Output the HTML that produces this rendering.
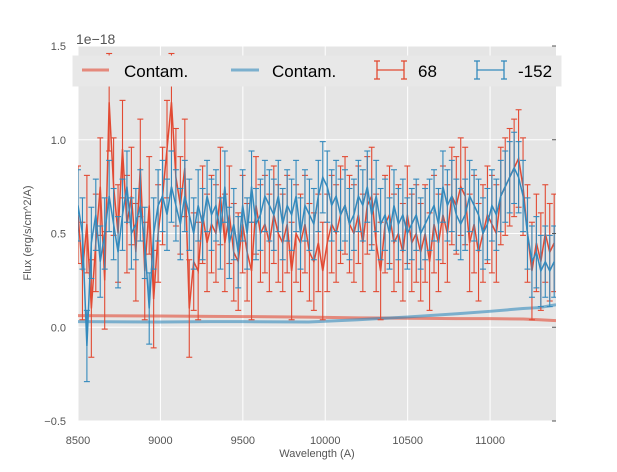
<!DOCTYPE html>
<html><head><meta charset="utf-8"><style>
body{margin:0;background:#fff;font-family:"Liberation Sans",sans-serif}
svg text{font-family:"Liberation Sans",sans-serif}
</style></head><body>
<svg id="chart" width="617" height="467">
<defs><clipPath id="pc"><rect x="78" y="46" width="478" height="375"/></clipPath></defs>
<rect x="78" y="46" width="478" height="375" fill="#e5e5e5"/>
<g id="grid"></g><g id="marks" clip-path="url(#pc)"></g><g id="axes"></g>
<text x="76" y="44" font-size="14" fill="#555">1e−18</text>
<text x="317" y="457" font-size="11" fill="#555" text-anchor="middle">Wavelength (A)</text>
<text transform="translate(31,233) rotate(-90)" font-size="11" fill="#555" text-anchor="middle">Flux (erg/s/cm^2/A)</text>
<g>
<rect x="73" y="56" width="488" height="30" fill="#e8e8e8" stroke="#e8e8e8"/>
<line x1="82" y1="70" x2="109" y2="70" stroke="#E24A33" stroke-opacity="0.6" stroke-width="3"/>
<text x="124" y="77" font-size="17">Contam.</text>
<line x1="231" y1="70" x2="259" y2="70" stroke="#348ABD" stroke-opacity="0.6" stroke-width="3"/>
<text x="272" y="77" font-size="17">Contam.</text>
<g stroke="#E24A33" stroke-width="1.3"><line x1="377" y1="70" x2="404" y2="70"/><line x1="377" y1="61" x2="377" y2="79"/><line x1="404" y1="61" x2="404" y2="79"/><line x1="374" y1="61" x2="380" y2="61"/><line x1="374" y1="79" x2="380" y2="79"/><line x1="401" y1="61" x2="407" y2="61"/><line x1="401" y1="79" x2="407" y2="79"/></g>
<text x="418" y="77" font-size="17">68</text>
<g stroke="#348ABD" stroke-width="1.3"><line x1="477" y1="70" x2="504" y2="70"/><line x1="477" y1="61" x2="477" y2="79"/><line x1="504" y1="61" x2="504" y2="79"/><line x1="474" y1="61" x2="480" y2="61"/><line x1="474" y1="79" x2="480" y2="79"/><line x1="501" y1="61" x2="507" y2="61"/><line x1="501" y1="79" x2="507" y2="79"/></g>
<text x="518" y="77" font-size="17">-152</text>
</g>
</svg>
<script>
const xStart = 8500, xStep = 27;
const red68 = [0.6,0.3,0.55,0.1,0.45,0.75,0.25,1.2,0.75,0.5,0.95,
0.55,0.7,0.4,0.85,0.3,0.65,0.15,0.5,0.7,0.95,1.2,
0.8,0.65,0.85,0.1,0.35,0.3,0.6,0.45,0.55,0.5,0.7,
0.45,0.6,0.4,0.35,0.55,0.4,0.3,0.65,0.5,0.55,0.45,
0.6,0.5,0.45,0.55,0.3,0.5,0.45,0.55,0.4,0.35,0.45,
0.3,0.45,0.55,0.5,0.6,0.65,0.55,0.5,0.6,0.45,0.65,
0.7,0.45,0.3,0.55,0.6,0.45,0.5,0.4,0.6,0.45,0.5,
0.4,0.5,0.35,0.55,0.45,0.6,0.5,0.7,0.65,0.75,0.7,
0.45,0.55,0.4,0.5,0.6,0.55,0.5,0.7,0.75,0.8,0.85,
0.9,0.75,0.5,0.3,0.45,0.35,0.5,0.4,0.45];
const blue152 = [0.65,0.5,-0.1,0.45,0.6,0.35,0.5,0.7,0.55,0.4,0.6,
0.75,0.5,0.55,0.65,0.45,0.1,0.5,0.65,0.7,0.6,0.75,
0.65,0.55,0.7,0.6,0.5,0.65,0.55,0.7,0.6,0.65,0.5,
0.75,0.45,0.55,0.4,0.65,0.5,0.75,0.55,0.6,0.7,0.65,
0.6,0.7,0.55,0.65,0.6,0.7,0.5,0.65,0.6,0.55,0.7,
0.8,0.75,0.65,0.7,0.6,0.65,0.55,0.6,0.7,0.65,0.75,
0.6,0.7,0.55,0.6,0.5,0.65,0.55,0.6,0.5,0.55,0.6,
0.5,0.55,0.6,0.65,0.55,0.75,0.65,0.7,0.6,0.55,0.6,
0.7,0.65,0.6,0.5,0.55,0.65,0.6,0.7,0.75,0.8,0.85,
0.8,0.7,0.5,0.35,0.4,0.3,0.35,0.3,0.35];
const errRed = 0.26;
const errBlue = 0.19;
const contamWave = [8500,9000,9300,9500,9900,10200,10500,10800,11000,11200,11300,11400];
const contamRed = [0.062,0.06,0.058,0.057,0.054,0.05,0.048,0.046,0.046,0.044,0.04,0.035];
const contamBlue = [0.03,0.028,0.03,0.03,0.028,0.04,0.055,0.072,0.085,0.1,0.105,0.12];
const xTicks = [8500,9000,9500,10000,10500,11000];
const yTicks = [-0.5,0.0,0.5,1.0,1.5];
const yTickLabels = ["−0.5","0.0","0.5","1.0","1.5"];

const X0=78,X1=556,Y0=421,Y1=46,xmin=8500,xmax=11400,ymin=-0.5,ymax=1.5;
const sx=v=>X0+(v-xmin)/(xmax-xmin)*(X1-X0);
const sy=v=>Y0-(v-ymin)/(ymax-ymin)*(Y0-Y1);
const NS="http://www.w3.org/2000/svg";
function mk(t,a,p){const e=document.createElementNS(NS,t);for(const k in a)e.setAttribute(k,a[k]);p.appendChild(e);return e;}
const grid=document.getElementById('grid'),marks=document.getElementById('marks'),axes=document.getElementById('axes');
xTicks.forEach(v=>{
 const l=mk('line',{x1:sx(v),x2:sx(v),y1:Y1,y2:Y0,stroke:'#fff','stroke-width':1},grid);
 
 
 const t=mk('text',{x:sx(v),y:Y0+23,'font-size':11,fill:'#555','text-anchor':'middle'},axes);
 t.textContent=v;
 
 
});
yTicks.forEach((v,i)=>{
 const l=mk('line',{x1:X0,x2:X1,y1:sy(v),y2:sy(v),stroke:'#fff','stroke-width':1},grid);
 
 
 const tk=mk('line',{x1:X1-4,x2:X1,y1:sy(v),y2:sy(v),stroke:'#555'},axes);
 
 
 const t=mk('text',{x:X0-12,y:sy(v)+4,'font-size':11,fill:'#555','text-anchor':'end'},axes);
 t.textContent=yTickLabels[i];
 
 
});
function contam(ys,color,name){
 const d=contamWave.map((w,i)=>(i?'L':'M')+sx(w)+','+sy(ys[i])).join('');
 const p=mk('path',{d:d,fill:'none',stroke:color,'stroke-opacity':0.6,'stroke-width':3},marks);
 
 
}
function series(ys,err,color,name){
 const g=mk('g',{stroke:color,'stroke-width':1.1,fill:'none'},marks);
 
 
 ys.forEach((v,i)=>{
  const x=sx(xStart+i*xStep),a=sy(v+err),b=sy(v-err);
  mk('line',{x1:x,x2:x,y1:a,y2:b},g);
  mk('line',{x1:x-3,x2:x+3,y1:a,y2:a},g);
  mk('line',{x1:x-3,x2:x+3,y1:b,y2:b},g);
 });
 const d=ys.map((v,i)=>(i?'L':'M')+sx(xStart+i*xStep)+','+sy(v)).join('');
 const p=mk('path',{d:d,'stroke-width':1.5},g);
 
 
}
contam(contamRed,'#E24A33','contam-red-line');
contam(contamBlue,'#348ABD','contam-blue-line');
series(red68,errRed,'#E24A33','series-68');
series(blue152,errBlue,'#348ABD','series-152');
</script>
</body></html>
